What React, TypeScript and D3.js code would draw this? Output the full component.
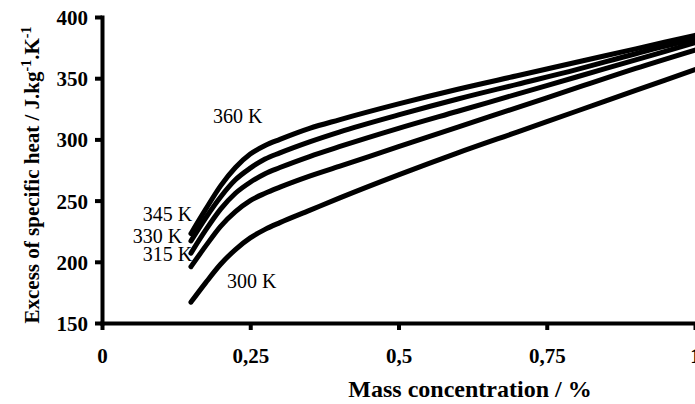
import React, { useEffect, useRef } from "react";
import * as d3 from "d3";

// mass concentration (%) where the curves were read
const concentration = [0.15, 0.175, 0.2, 0.225, 0.25, 0.275, 0.3, 0.35, 0.4, 0.5, 0.6, 0.7, 0.8, 0.9, 1.0];

// excess of specific heat (J/kg/K), one list per temperature
const cp300 = [167, 183, 198, 210, 219.5, 226.5, 232, 242, 252, 271, 289, 306, 323, 340, 357];
const cp315 = [196, 213, 229, 241, 250, 256, 261, 270, 278, 294, 310, 326, 342, 358, 373];
const cp330 = [207, 226, 243, 256, 265, 272, 277, 286, 294, 309, 323, 337, 351, 365, 379];
const cp345 = [217, 236, 253, 267, 276.5, 284, 289, 298, 306, 320, 333, 345, 357, 370, 382];
const cp360 = [223, 243, 262, 277, 288, 295, 300, 309, 316, 329, 341, 352, 363, 374, 385];

const seriesNames = ["300 K", "315 K", "330 K", "345 K", "360 K"];
const seriesValues = [cp300, cp315, cp330, cp345, cp360];

// where each curve label sits, in data units (x, y of baseline start)
const labelX = [0.211, 0.0686, 0.0518, 0.0686, 0.187];
const labelY = [178.6, 200.7, 215.6, 233.3, 313.6];

const xTicks = [0, 0.25, 0.5, 0.75, 1];
const xTickLabels = ["0", "0,25", "0,5", "0,75", "1"];
const yTicks = [150, 200, 250, 300, 350, 400];

const W = 695;
const H = 404;
const FONT = "'Liberation Serif', 'Times New Roman', serif";

export default function App() {
  const ref = useRef<SVGSVGElement>(null);

  useEffect(() => {
    const svg = d3.select(ref.current);
    svg.selectAll("*").remove();

    const x = d3.scaleLinear().domain([0, 1]).range([102, 695]);
    const y = d3.scaleLinear().domain([150, 400]).range([323, 17]);

    // curves
    const line = d3
      .line<number>()
      .x((d, i) => x(concentration[i]))
      .y(d => y(d))
      .curve(d3.curveMonotoneX);

    svg
      .append("g")
      .selectAll("path")
      .data(seriesValues)
      .enter()
      .append("path")
      .attr("d", d => line(d))
      .attr("fill", "none")
      .attr("stroke", "#000")
      .attr("stroke-width", 5)
      .attr("stroke-linecap", "round")
      .attr("stroke-linejoin", "round");

    // curve labels
    svg
      .append("g")
      .selectAll("text")
      .data(seriesNames)
      .enter()
      .append("text")
      .attr("x", (d, i) => x(labelX[i]))
      .attr("y", (d, i) => y(labelY[i]))
      .attr("font-family", FONT)
      .attr("font-size", 20)
      .attr("fill", "#000")
      .text(d => d);

    // axes
    const xAxis = svg
      .append("g")
      .attr("transform", "translate(0," + y(150) + ")")
      .call(
        d3
          .axisBottom(x)
          .tickValues(xTicks)
          .tickSizeInner(7)
          .tickSizeOuter(0)
          .tickPadding(18)
          .tickFormat((d, i) => xTickLabels[i])
      );

    const yAxis = svg
      .append("g")
      .attr("transform", "translate(" + x(0) + ",0)")
      .call(
        d3
          .axisLeft(y)
          .tickValues(yTicks)
          .tickSizeInner(7)
          .tickSizeOuter(0)
          .tickPadding(7)
      );

    [xAxis, yAxis].forEach(g => {
      g.select(".domain").attr("stroke-width", 4).attr("stroke-linecap", "square");
      g.selectAll(".tick line").attr("stroke-width", 4);
      g.selectAll(".tick text")
        .attr("font-family", FONT)
        .attr("font-size", 21)
        .attr("font-weight", "bold")
        .attr("fill", "#000");
    });
    yAxis.selectAll(".tick text").attr("dy", "0.36em");

    // axis titles
    svg
      .append("text")
      .attr("x", 470)
      .attr("y", 397)
      .attr("text-anchor", "middle")
      .attr("font-family", FONT)
      .attr("font-size", 24)
      .attr("font-weight", "bold")
      .text("Mass concentration / %");

    const yTitle = svg
      .append("text")
      .attr("transform", "translate(39,175) rotate(-90)")
      .attr("text-anchor", "middle")
      .attr("font-family", FONT)
      .attr("font-size", 21)
      .attr("font-weight", "bold");
    yTitle.append("tspan").text("Excess of specific heat / J.kg");
    yTitle.append("tspan").attr("dy", -8).attr("font-size", 14).text("-1");
    yTitle.append("tspan").attr("dy", 8).text(".K");
    yTitle.append("tspan").attr("dy", -8).attr("font-size", 14).text("-1");
  }, []);

  return (
    <svg
      ref={ref}
      width={W}
      height={H}
      style={{ position: "absolute", left: 0, top: 0, background: "#fff" }}
    />
  );
}
